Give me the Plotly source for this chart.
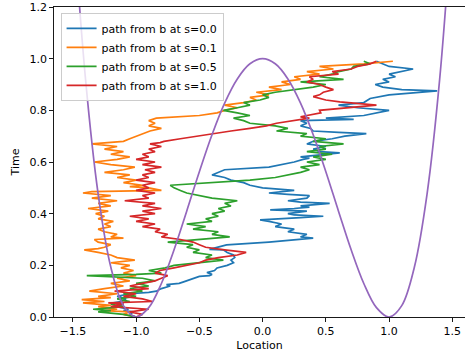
import plotly.graph_objects as go

# (time, location) samples
path_s00 = [
    (0.00, -1.00), (0.01, -1.05), (0.02, -1.02), (0.025, -1.10), (0.03, -1.06), (0.04, -1.15),
    (0.05, -1.10), (0.055, -1.18), (0.06, -1.12), (0.07, -1.08), (0.08, -1.15), (0.09, -1.05),
    (0.095, -0.90), (0.10, -0.84), (0.11, -0.80), (0.12, -0.73), (0.125, -0.76), (0.13, -0.66),
    (0.135, -0.63), (0.14, -0.60), (0.15, -0.55), (0.157, -0.50), (0.16, -0.42), (0.165, -0.40),
    (0.172, -0.44), (0.18, -0.38), (0.19, -0.36), (0.20, -0.28), (0.21, -0.23), (0.22, -0.25),
    (0.23, -0.22), (0.24, -0.23), (0.25, -0.28), (0.26, -0.31), (0.262, -0.42), (0.27, -0.36),
    (0.279, -0.285), (0.29, 0.05), (0.305, 0.40), (0.31, 0.30), (0.32, 0.35), (0.33, 0.20),
    (0.34, 0.25), (0.35, 0.10), (0.36, 0.15), (0.37, 0.05), (0.376, -0.02), (0.385, 0.30),
    (0.39, 0.48), (0.395, 0.25), (0.40, 0.20), (0.41, 0.35), (0.415, 0.06), (0.42, 0.25),
    (0.425, 0.37), (0.43, 0.30), (0.44, 0.53), (0.445, 0.30), (0.45, 0.20), (0.46, 0.35),
    (0.47, 0.37), (0.475, 0.20), (0.48, 0.05), (0.49, 0.25), (0.50, 0.00), (0.51, -0.10),
    (0.52, -0.15), (0.53, -0.25), (0.54, -0.30), (0.55, -0.40), (0.56, -0.35), (0.57, -0.30),
    (0.58, 0.05), (0.59, 0.15), (0.60, 0.25), (0.61, 0.32), (0.615, 0.37), (0.62, 0.30),
    (0.63, 0.55), (0.635, 0.61), (0.64, 0.45), (0.65, 0.40), (0.66, 0.50), (0.67, 0.35),
    (0.68, 0.40), (0.69, 0.55), (0.70, 0.65), (0.71, 0.82), (0.715, 0.60), (0.72, 0.40),
    (0.73, 0.38), (0.74, 0.30), (0.75, 0.35), (0.76, 0.30), (0.765, 0.72), (0.77, 0.50),
    (0.78, 0.80), (0.79, 0.90), (0.80, 1.00), (0.81, 0.75), (0.82, 0.60), (0.83, 0.80),
    (0.846, 0.85), (0.86, 1.00), (0.875, 1.38), (0.88, 1.10), (0.89, 0.95), (0.90, 0.89),
    (0.91, 1.00), (0.92, 0.95), (0.93, 1.05), (0.94, 1.00), (0.95, 1.10), (0.96, 1.19),
    (0.97, 1.00), (0.98, 0.95), (0.99, 0.90),
]

path_s01 = [
    (0.00, -1.00), (0.01, -1.10), (0.02, -1.05), (0.025, -1.25), (0.03, -1.15), (0.04, -1.30),
    (0.045, -1.20), (0.055, -1.42), (0.06, -1.25), (0.067, -1.43), (0.075, -1.20), (0.08, -1.30),
    (0.09, -1.15), (0.10, -1.37), (0.11, -1.25), (0.12, -1.10), (0.13, -1.20), (0.14, -1.05),
    (0.15, -1.15), (0.16, -1.00), (0.17, -1.10), (0.18, -1.02), (0.19, -1.12), (0.20, -1.05),
    (0.21, -1.20), (0.22, -1.01), (0.23, -1.15), (0.24, -1.20), (0.25, -1.30), (0.26, -1.41),
    (0.265, -1.30), (0.27, -1.25), (0.28, -1.20), (0.29, -1.30), (0.30, -1.33), (0.305, -1.10),
    (0.31, -1.20), (0.32, -1.15), (0.33, -1.25), (0.34, -1.30), (0.35, -1.20), (0.36, -1.25),
    (0.37, -1.18), (0.38, -1.30), (0.39, -1.25), (0.40, -1.32), (0.41, -1.22), (0.42, -1.38),
    (0.43, -1.20), (0.44, -1.30), (0.45, -1.15), (0.46, -1.35), (0.47, -1.20), (0.48, -1.42),
    (0.485, -1.35), (0.49, -0.80), (0.50, -0.90), (0.505, -1.05), (0.51, -0.95), (0.52, -1.10),
    (0.53, -1.00), (0.54, -1.15), (0.55, -1.05), (0.56, -1.25), (0.57, -1.10), (0.58, -1.01),
    (0.59, -1.20), (0.60, -1.33), (0.61, -1.15), (0.62, -1.05), (0.63, -1.20), (0.64, -1.10),
    (0.65, -1.25), (0.66, -1.15), (0.67, -1.35), (0.68, -1.10), (0.69, -1.05), (0.70, -1.00),
    (0.71, -0.95), (0.72, -0.89), (0.73, -0.80), (0.74, -0.90), (0.75, -0.85), (0.76, -0.90),
    (0.77, -0.84), (0.78, -0.50), (0.79, -0.36), (0.80, -0.30), (0.81, -0.20), (0.82, -0.30),
    (0.83, -0.15), (0.84, -0.05), (0.85, -0.10), (0.86, 0.05), (0.87, -0.05), (0.88, 0.15),
    (0.89, 0.05), (0.90, 0.22), (0.91, 0.15), (0.92, 0.30), (0.93, 0.25), (0.94, 0.45),
    (0.95, 0.35), (0.96, 0.56), (0.97, 0.45), (0.98, 0.80), (0.99, 1.03),
]

path_s05 = [
    (0.00, -1.00), (0.01, -1.10), (0.02, -1.30), (0.025, -1.20), (0.03, -1.34), (0.04, -1.10),
    (0.05, -1.20), (0.06, -1.05), (0.07, -1.15), (0.08, -1.00), (0.09, -1.10), (0.10, -0.95),
    (0.11, -1.05), (0.12, -0.90), (0.13, -1.00), (0.14, -0.85), (0.15, -0.95), (0.16, -1.39),
    (0.165, -1.00), (0.17, -0.80), (0.18, -0.90), (0.19, -0.77), (0.20, -0.70), (0.21, -0.50),
    (0.22, -0.31), (0.23, -0.45), (0.24, -0.40), (0.25, -0.55), (0.26, -0.50), (0.27, -0.60),
    (0.28, -0.55), (0.29, -0.75), (0.30, -0.50), (0.31, -0.26), (0.32, -0.40), (0.33, -0.35),
    (0.34, -0.55), (0.35, -0.45), (0.36, -0.60), (0.37, -0.40), (0.38, -0.45), (0.39, -0.35),
    (0.40, -0.40), (0.41, -0.30), (0.42, -0.35), (0.43, -0.25), (0.44, -0.30), (0.45, -0.20),
    (0.46, -0.40), (0.47, -0.50), (0.48, -0.60), (0.49, -0.65), (0.50, -0.70), (0.51, -0.73),
    (0.52, -0.40), (0.53, -0.10), (0.54, 0.10), (0.55, 0.20), (0.56, 0.30), (0.57, 0.37),
    (0.58, 0.30), (0.59, 0.45), (0.60, 0.35), (0.61, 0.50), (0.62, 0.40), (0.63, 0.55),
    (0.64, 0.35), (0.65, 0.50), (0.66, 0.45), (0.67, 0.64), (0.68, 0.40), (0.69, 0.50),
    (0.70, 0.30), (0.71, 0.35), (0.72, 0.11), (0.73, 0.20), (0.74, 0.10), (0.75, -0.10),
    (0.76, -0.15), (0.77, -0.23), (0.78, -0.10), (0.79, -0.20), (0.80, -0.31), (0.81, -0.20),
    (0.82, -0.10), (0.83, -0.15), (0.84, -0.02), (0.85, 0.05), (0.86, 0.00), (0.87, 0.10),
    (0.88, 0.25), (0.89, 0.40), (0.90, 0.50), (0.91, 0.30), (0.92, 0.64), (0.93, 0.45),
    (0.94, 0.55), (0.95, 0.60), (0.96, 0.70), (0.97, 0.72), (0.98, 0.85), (0.99, 0.80),
]

path_s10 = [
    (0.00, -1.00), (0.01, -0.95), (0.02, -1.05), (0.03, -0.90), (0.04, -1.20), (0.05, -1.10),
    (0.055, -1.22), (0.06, -0.87), (0.07, -0.95), (0.08, -1.10), (0.09, -1.00), (0.10, -1.17),
    (0.11, -0.90), (0.12, -1.05), (0.13, -0.95), (0.14, -0.85), (0.15, -0.80), (0.16, -0.75),
    (0.17, -0.85), (0.18, -0.81), (0.19, -0.70), (0.20, -0.60), (0.21, -0.50), (0.22, -0.45),
    (0.23, -0.35), (0.24, -0.20), (0.25, -0.13), (0.26, -0.30), (0.27, -0.45), (0.28, -0.50),
    (0.29, -0.55), (0.30, -0.65), (0.31, -0.80), (0.32, -0.75), (0.33, -0.85), (0.34, -0.81),
    (0.35, -0.95), (0.36, -0.85), (0.37, -1.00), (0.38, -0.90), (0.39, -1.05), (0.40, -0.85),
    (0.41, -0.95), (0.42, -0.80), (0.43, -0.95), (0.44, -0.85), (0.45, -1.09), (0.46, -0.90),
    (0.47, -0.95), (0.48, -0.85), (0.49, -1.00), (0.50, -0.90), (0.51, -0.95), (0.52, -0.85),
    (0.53, -1.00), (0.54, -0.90), (0.55, -0.95), (0.56, -0.85), (0.57, -0.93), (0.58, -0.80),
    (0.59, -0.95), (0.60, -0.85), (0.61, -1.00), (0.62, -0.90), (0.63, -0.95), (0.64, -0.85),
    (0.65, -0.90), (0.66, -0.80), (0.67, -0.89), (0.675, -0.81), (0.68, -0.78), (0.69, -0.65),
    (0.70, -0.52), (0.71, -0.40), (0.72, -0.25), (0.73, -0.10), (0.74, 0.03), (0.75, 0.11),
    (0.76, 0.25), (0.77, 0.37), (0.775, 0.30), (0.79, 0.46), (0.80, 0.45), (0.81, 0.70),
    (0.82, 0.90), (0.833, 0.61), (0.84, 0.50), (0.853, 0.40), (0.86, 0.45), (0.87, 0.48),
    (0.88, 0.56), (0.89, 0.50), (0.90, 0.45), (0.91, 0.35), (0.92, 0.40), (0.93, 0.37),
    (0.94, 0.60), (0.95, 0.55), (0.96, 0.70), (0.97, 0.75), (0.98, 0.85), (0.99, 0.90),
]

# double-well curve samples (location, value)
well_x = [-1.5, -1.4, -1.3, -1.2, -1.1, -1.0, -0.9, -0.8, -0.7, -0.6, -0.5, -0.4, -0.3, -0.2, -0.1, 0.0,
          0.1, 0.2, 0.3, 0.4, 0.5, 0.6, 0.7, 0.8, 0.9, 1.0, 1.1, 1.2, 1.3, 1.4, 1.5]
well_y = [1.5625, 0.9216, 0.4761, 0.1936, 0.0441, 0.0, 0.0361, 0.1296, 0.2601, 0.4096, 0.5625, 0.7056,
          0.8281, 0.9216, 0.9801, 1.0, 0.9801, 0.9216, 0.8281, 0.7056, 0.5625, 0.4096, 0.2601, 0.1296,
          0.0361, 0.0, 0.0441, 0.1936, 0.4761, 0.9216, 1.5625]

x_ticks = [-1.5, -1.0, -0.5, 0.0, 0.5, 1.0, 1.5]
x_tick_text = ["\u22121.5", "\u22121.0", "\u22120.5", "0.0", "0.5", "1.0", "1.5"]
y_ticks = [0.0, 0.2, 0.4, 0.6, 0.8, 1.0, 1.2]
y_tick_text = ["0.0", "0.2", "0.4", "0.6", "0.8", "1.0", "1.2"]

series = [
    ("path from b at s=0.0", path_s00, "#1f77b4"),
    ("path from b at s=0.1", path_s01, "#ff7f0e"),
    ("path from b at s=0.5", path_s05, "#2ca02c"),
    ("path from b at s=1.0", path_s10, "#d62728"),
]

fig = go.Figure()
for name, pts, color in series:
    fig.add_trace(go.Scatter(
        x=[p[1] for p in pts], y=[p[0] for p in pts], mode="lines", name=name,
        line=dict(color=color, width=1.7),
    ))
fig.add_trace(go.Scatter(
    x=well_x, y=well_y, mode="lines", showlegend=False,
    line=dict(color="#9467bd", width=1.7, shape="spline"),
))

font = dict(family="DejaVu Sans", size=11, color="black")
fig.update_layout(
    width=465, height=356,
    margin=dict(l=54, r=0, t=7, b=39),
    paper_bgcolor="white", plot_bgcolor="white",
    font=font,
    showlegend=True,
    legend=dict(
        x=0.016, y=0.981, xanchor="left", yanchor="top",
        bgcolor="rgba(255,255,255,0.8)", bordercolor="#cccccc", borderwidth=1,
        font=font, tracegroupgap=0, itemwidth=30,
    ),
    xaxis=dict(
        range=[-1.649, 1.600], tickvals=x_ticks, ticktext=x_tick_text,
        showgrid=False, zeroline=False, showline=True, linecolor="black", linewidth=0.9,
        mirror=True, ticks="outside", ticklen=4, tickwidth=0.9, tickcolor="black",
        automargin=False,
        title=dict(text="Location", font=font, standoff=4),
    ),
    yaxis=dict(
        range=[0, 1.2], tickvals=y_ticks, ticktext=y_tick_text,
        showgrid=False, zeroline=False, showline=True, linecolor="black", linewidth=0.9,
        ticks="outside", ticklen=4, tickwidth=0.9, tickcolor="black",
        automargin=False,
        title=dict(text="Time", font=font, standoff=7),
    ),
)
fig.write_html(
    "out.html",
    config={"displayModeBar": False, "staticPlot": True},
    post_script="document.body.style.margin='0';document.body.style.overflow='hidden';",
)
